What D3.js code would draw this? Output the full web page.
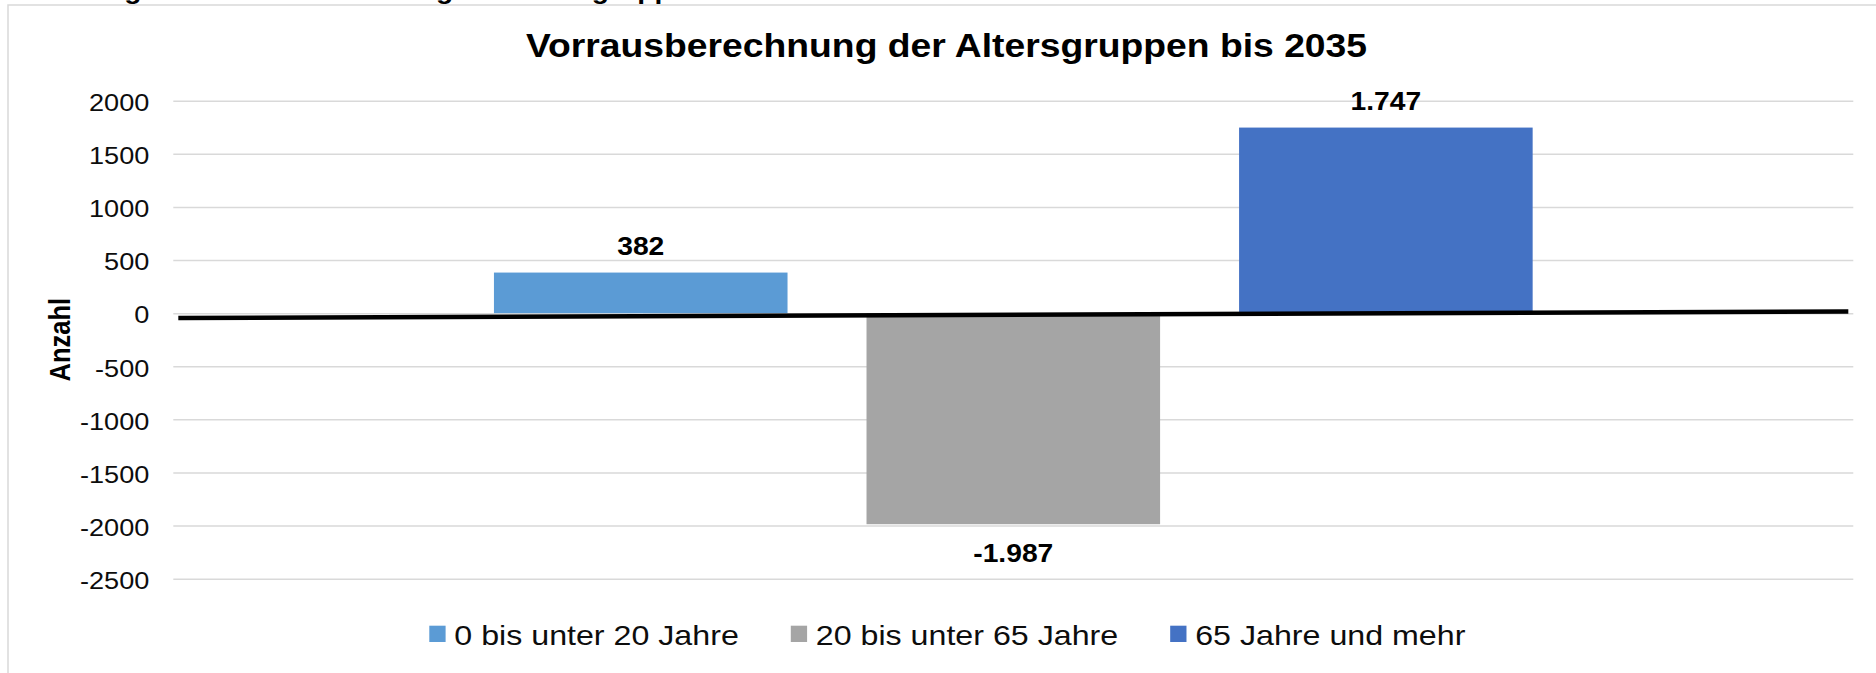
<!DOCTYPE html>
<html>
<head>
<meta charset="utf-8">
<script src="https://cdn.jsdelivr.net/npm/d3@7"></script>
<style>
  html, body { margin: 0; padding: 0; background: #fff; }
  svg { display: block; font-family: "Liberation Sans", Arial, sans-serif; }
</style>
</head>
<body>
<svg id="chart" width="1876" height="673"></svg>
<script>
// ---- data ----
const categories = ["0 bis unter 20 Jahre", "20 bis unter 65 Jahre", "65 Jahre und mehr"];
const values = [382, -1987, 1747];
const colors = ["#5B9BD5", "#A5A5A5", "#4472C4"];
const yTicks = [2000, 1500, 1000, 500, 0, -500, -1000, -1500, -2000, -2500];
const yDomain = [-2500, 2000];
const titleText = "Vorrausberechnung der Altersgruppen bis 2035";
const yAxisTitle = "Anzahl";
const captionText = "Abbildung 10: Vorausberechnung der Altersgruppen";
// hand-drawn black zero line (annotation), in data units at its two ends
const zeroLineEnds = [-45, 15];

// ---- layout ----
const SX = 1.13; // horizontal stretch of the reference rendering
const plot = { left: 173.3, right: 1853.3, top: 100.7, bottom: 578.7 };
const svg = d3.select("#chart");

const de = d3.formatLocale({ decimal: ",", thousands: ".", grouping: [3], currency: ["", " €"], minus: "-" });
const fmt = de.format(",d");

const y = d3.scaleLinear().domain(yDomain).range([plot.bottom, plot.top]);
const x0 = d3.scaleBand().domain([""]).range([plot.left, plot.right]).paddingInner(0).paddingOuter(0.3087);
const x1 = d3.scaleBand().domain(categories).range([0, x0.bandwidth()]).paddingInner(0.212).paddingOuter(0);

// chart area border
svg.append("rect").attr("x", 8).attr("y", 5).attr("width", 1900).attr("height", 700)
  .attr("fill", "#fff").attr("stroke", "#d9d9d9").attr("stroke-width", 1.5);

// caption above (cut off by the top edge, as in the reference)
svg.append("text").attr("transform", `translate(2,-1) scale(${SX},1)`)
  .attr("font-size", 25).attr("font-weight", "bold").attr("fill", "#000").text(captionText);

// gridlines
const grid = svg.append("g").attr("transform", `translate(${plot.left},0)`)
  .call(d3.axisLeft(y).tickValues(yTicks).tickSize(-(plot.right - plot.left)).tickFormat(""));
grid.select(".domain").remove();
grid.selectAll("line").attr("stroke", "#d9d9d9").attr("stroke-width", 1.5);

// y axis labels
const yAxis = svg.append("g").attr("transform", `translate(${plot.left},0)`)
  .call(d3.axisLeft(y).tickValues(yTicks).tickSize(0).tickPadding(24).tickFormat(d => String(d)));
yAxis.select(".domain").remove();
yAxis.selectAll("text")
  .attr("font-size", 24).attr("font-family", "Liberation Sans, Arial, sans-serif")
  .attr("fill", "#0d0d0d").attr("dy", "0.41em")
  .attr("x", -24 / SX)
  .attr("transform", `scale(${SX},1)`);

// y axis title
svg.append("text")
  .attr("transform", `translate(70,${(plot.top + plot.bottom) / 2}) scale(${SX},1) rotate(-90)`)
  .attr("text-anchor", "middle").attr("font-size", 25.5).attr("font-weight", "bold")
  .attr("fill", "#000").text(yAxisTitle);

// bars
const rows = categories.map((c, i) => ({ c, v: values[i], col: colors[i] }));
const g = svg.append("g").attr("transform", `translate(${x0("")},0)`);
g.selectAll("rect.bar").data(rows).join("rect").attr("class", "bar")
  .attr("x", d => x1(d.c)).attr("width", x1.bandwidth())
  .attr("y", d => y(Math.max(0, d.v)))
  .attr("height", d => Math.abs(y(d.v) - y(0)))
  .attr("fill", d => d.col);

// zero line annotation
svg.append("line")
  .attr("x1", plot.left + 5).attr("x2", plot.right - 5)
  .attr("y1", y(zeroLineEnds[0])).attr("y2", y(zeroLineEnds[1]))
  .attr("stroke", "#000").attr("stroke-width", 4.5);

// data labels
g.selectAll("text.lbl").data(rows).join("text").attr("class", "lbl")
  .attr("transform", d => `translate(${x1(d.c) + x1.bandwidth() / 2},${d.v >= 0 ? y(d.v) - 17.7 : y(d.v) + 37.7}) scale(${SX},1)`)
  .attr("text-anchor", "middle").attr("font-size", 25).attr("font-weight", "bold")
  .attr("fill", "#000").text(d => fmt(d.v));

// title
svg.append("text")
  .attr("transform", `translate(946.5,57) scale(${SX},1)`)
  .attr("text-anchor", "middle").attr("font-size", 33).attr("font-weight", "bold")
  .attr("fill", "#000").text(titleText);

// legend
const legend = svg.append("g");
let lx = 429.3;
rows.forEach(d => {
  legend.append("rect").attr("x", lx).attr("y", 625.7).attr("width", 16.3).attr("height", 16.3).attr("fill", d.col);
  const t = legend.append("text")
    .attr("transform", `translate(${lx + 25},644.5) scale(${SX},1)`)
    .attr("font-size", 28.5).attr("fill", "#0d0d0d").text(d.c);
  const w = t.node().getComputedTextLength() * SX;
  lx = lx + 25 + w + 52;
});
</script>
</body>
</html>
